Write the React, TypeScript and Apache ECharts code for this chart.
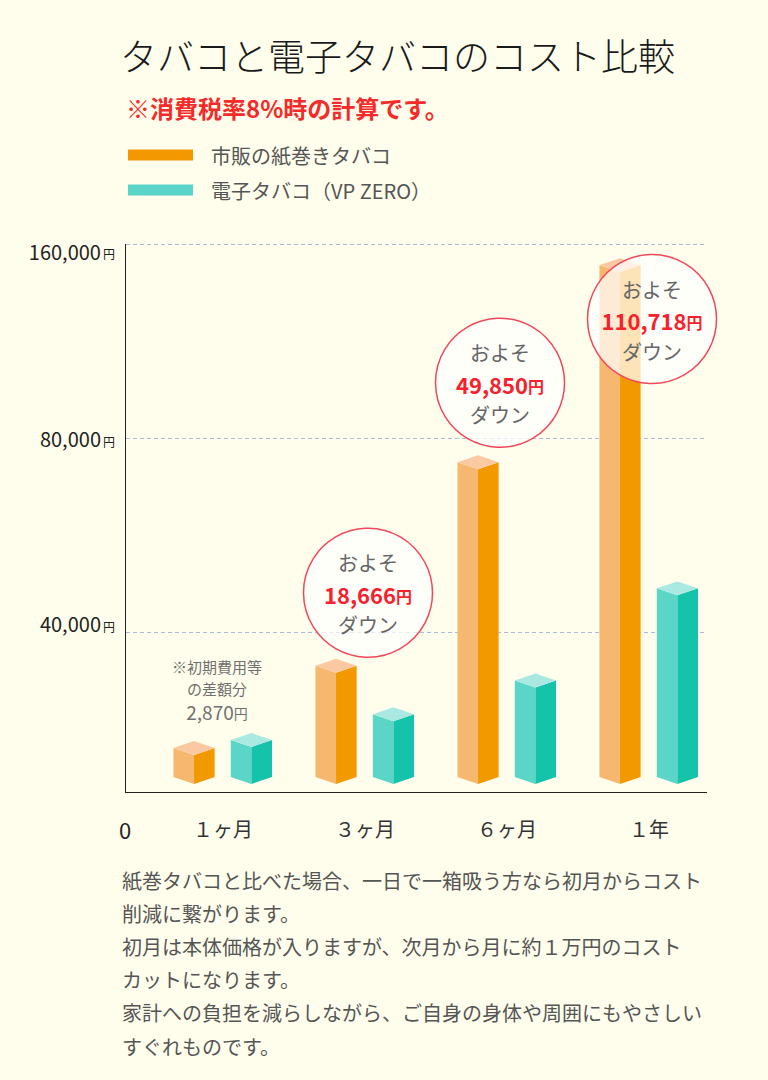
import React, { useEffect, useRef } from "react";
import * as echarts from "echarts";

// ---------- data ----------
const TITLE = "タバコと電子タバコのコスト比較";
const SUBTITLE = "※消費税率8%時の計算です。";
const CATEGORIES = ["１ヶ月", "３ヶ月", "６ヶ月", "１年"];
const SERIES_NAMES = ["市販の紙巻きタバコ", "電子タバコ（VP ZERO）"];
const CIGARETTE_COST = [8000, 30700, 75000, 151300];
const ECIG_COST = [10200, 17300, 26600, 49000];
const Y_TICKS = [0, 40000, 80000, 160000];
const Y_TICK_LABELS = ["0", "40,000", "80,000", "160,000"];
const Y_UNIT = "円";
const DIFF_LABELS = ["2,870", "18,666", "49,850", "110,718"];
const NOTE_LINES = ["※初期費用等", "の差額分"];
const CALLOUT_TOP = "およそ";
const CALLOUT_BOTTOM = "ダウン";
const PARAGRAPH = [
  "紙巻タバコと比べた場合、一日で一箱吸う方なら初月からコスト",
  "削減に繋がります。",
  "初月は本体価格が入りますが、次月から月に約１万円のコスト",
  "カットになります。",
  "家計への負担を減らしながら、ご自身の身体や周囲にもやさしい",
  "すぐれものです。",
];

// ---------- layout / style ----------
const FONT = "'Noto Sans CJK JP', 'Noto Sans', sans-serif";
const BG = "#FFFEEC";
// relative drawn length of each axis segment between consecutive ticks (broken scale)
const SEGMENT_LEN = [145, 194, 194];
const AXIS_MAX = SEGMENT_LEN.reduce((a, b) => a + b, 0);
const LABEL_DY = [0, -9, 0, 6.5];
const CALLOUT_LEVEL = [24550, 48080, 102800, 129070];
const CALLOUT_DX = [-6, 3, -7, 3];
const COLORS = {
  orange: { legend: "#F39800", left: "#F6B76E", right: "#F29900", top: "#FAC9A2" },
  teal: { legend: "#5BD5C8", left: "#5AD5C8", right: "#14C3AA", top: "#AAE8E2" },
};

function toAxis(v: number): number {
  let acc = 0;
  for (let k = 0; k < Y_TICKS.length - 1; k++) {
    const a = Y_TICKS[k];
    const b = Y_TICKS[k + 1];
    if (v <= b || k === Y_TICKS.length - 2) {
      return acc + ((v - a) / (b - a)) * SEGMENT_LEN[k];
    }
    acc += SEGMENT_LEN[k];
  }
  return acc;
}

function barSeries(name: string, values: number[], offset: number, c: any) {
  return {
    type: "custom",
    name,
    z: 2,
    itemStyle: { color: c.legend },
    encode: { x: 0, y: 1 },
    data: values.map((v, i) => [i, toAxis(v), v]),
    renderItem: (params: any, api: any) => {
      const i = api.value(0);
      const base = api.coord([i, 0]);
      const top = api.coord([i, api.value(1)]);
      const band = api.size([1, 0])[0];
      const hw = band * 0.145;
      const dy = band * 0.049;
      const cx = base[0] + offset * band;
      const ty = top[1];
      const by = base[1];
      return {
        type: "group",
        children: [
          {
            type: "polygon",
            shape: { points: [[cx - hw, ty], [cx, ty + dy], [cx, by + dy], [cx - hw, by]] },
            style: { fill: c.left },
          },
          {
            type: "polygon",
            shape: { points: [[cx, ty + dy], [cx + hw, ty], [cx + hw, by], [cx, by + dy]] },
            style: { fill: c.right },
          },
          {
            type: "polygon",
            shape: { points: [[cx - hw, ty], [cx, ty - dy], [cx + hw, ty], [cx, ty + dy]] },
            style: { fill: c.top },
          },
        ],
      };
    },
  };
}

export default function App() {
  const ref = useRef<HTMLDivElement>(null);

  useEffect(() => {
    document.body.style.margin = "0";
    const chart = echarts.init(ref.current!, null, { renderer: "svg" });

    const gridSeries = {
      type: "custom",
      name: "grid",
      z: 1,
      silent: true,
      encode: { x: 0, y: 1 },
      data: Y_TICKS.slice(1).map((v, k) => [0, toAxis(v), k + 1]),
      renderItem: (params: any, api: any) => {
        const cs = params.coordSys;
        const k = api.value(2);
        const y = Math.round(api.coord([0, api.value(1)])[1]) + 0.5;
        return {
          type: "group",
          children: [
            {
              type: "line",
              shape: { x1: cs.x - 26, y1: y, x2: cs.x + cs.width - 13, y2: y },
              style: { stroke: "#AEB8D8", lineWidth: 1, lineDash: [4, 3] },
            },
            {
              type: "text",
              style: {
                x: cs.x - 37,
                y: y + LABEL_DY[k],
                text: `{n|${Y_TICK_LABELS[k]}}{u|${Y_UNIT}}`,
                align: "right",
                verticalAlign: "middle",
                rich: {
                  n: { fontSize: 20, fill: "#222", fontFamily: FONT, verticalAlign: "bottom", lineHeight: 20 },
                  u: { fontSize: 12, fill: "#222", fontFamily: FONT, verticalAlign: "bottom", lineHeight: 14, padding: [0, 0, 1, 2] },
                },
              },
            },
          ],
        };
      },
    };

    const calloutSeries = {
      type: "custom",
      name: "callout",
      z: 3,
      silent: true,
      encode: { x: 0, y: 1 },
      data: CATEGORIES.map((c, i) => [i, toAxis(CALLOUT_LEVEL[i]), i]),
      renderItem: (params: any, api: any) => {
        const i = api.value(2);
        const p = api.coord([api.value(0), api.value(1)]);
        const x = p[0] + CALLOUT_DX[i];
        const y = p[1];
        if (i === 0) {
          return {
            type: "group",
            children: [
              {
                type: "text",
                style: { x, y: y - 22, text: NOTE_LINES[0], fontSize: 15, lineHeight: 16, fill: "#707070", fontFamily: FONT, align: "center", verticalAlign: "middle" },
              },
              {
                type: "text",
                style: { x, y, text: NOTE_LINES[1], fontSize: 15, lineHeight: 16, fill: "#707070", fontFamily: FONT, align: "center", verticalAlign: "middle" },
              },
              {
                type: "text",
                style: {
                  x,
                  y: y + 23,
                  text: `{n|${DIFF_LABELS[0]}}{u|${Y_UNIT}}`,
                  align: "center",
                  verticalAlign: "middle",
                  rich: {
                    n: { fontSize: 19, fill: "#707070", fontFamily: FONT, verticalAlign: "bottom", lineHeight: 19 },
                    u: { fontSize: 14, fill: "#707070", fontFamily: FONT, verticalAlign: "bottom", lineHeight: 15, padding: [0, 0, 1, 0] },
                  },
                },
              },
            ],
          };
        }
        return {
          type: "group",
          children: [
            {
              type: "circle",
              shape: { cx: x, cy: y, r: 64.5 },
              style: { fill: "rgba(255,255,255,0.72)", stroke: "#F2475A", lineWidth: 1.5 },
            },
            {
              type: "text",
              style: { x, y: y - 30, text: CALLOUT_TOP, fontSize: 20, lineHeight: 20, fill: "#666", fontFamily: FONT, align: "center", verticalAlign: "middle" },
            },
            {
              type: "text",
              style: {
                x,
                y: y + 1,
                text: `{n|${DIFF_LABELS[i]}}{u|${Y_UNIT}}`,
                align: "center",
                verticalAlign: "middle",
                rich: {
                  n: { fontSize: 22, fontWeight: "bold", fill: "#F5222D", fontFamily: FONT, verticalAlign: "bottom", lineHeight: 22 },
                  u: { fontSize: 16, fontWeight: "bold", fill: "#F5222D", fontFamily: FONT, verticalAlign: "bottom", lineHeight: 16, padding: [0, 0, 1, 0] },
                },
              },
            },
            {
              type: "text",
              style: { x, y: y + 32, text: CALLOUT_BOTTOM, fontSize: 20, lineHeight: 20, fill: "#666", fontFamily: FONT, align: "center", verticalAlign: "middle" },
            },
          ],
        };
      },
    };

    const option: any = {
      animation: false,
      backgroundColor: BG,
      textStyle: { fontFamily: FONT },
      title: [
        {
          text: TITLE,
          left: 120,
          top: 36,
          padding: 0,
          textStyle: { fontSize: 37, fontWeight: 300, color: "#1a1a1a", fontFamily: FONT },
        },
        {
          text: SUBTITLE,
          left: 126,
          top: 95,
          padding: 0,
          textStyle: { fontSize: 24, fontWeight: "bold", color: "#F52A2A", fontFamily: FONT },
        },
      ],
      legend: {
        data: SERIES_NAMES,
        orient: "vertical",
        left: 128,
        top: 144,
        padding: 0,
        itemWidth: 65,
        itemHeight: 11,
        itemGap: 13,
        icon: "rect",
        selectedMode: false,
        textStyle: { fontSize: 20, color: "#555", fontFamily: FONT, lineHeight: 22, padding: [0, 0, 0, 13] },
      },
      grid: { left: 152, right: 48, top: 244, bottom: 303 },
      xAxis: {
        type: "category",
        data: CATEGORIES,
        axisLine: { show: false },
        axisTick: { show: false },
        splitLine: { show: false },
        axisLabel: { margin: 41, fontSize: 20, color: "#333", fontFamily: FONT },
      },
      yAxis: {
        type: "value",
        min: 0,
        max: AXIS_MAX,
        show: false,
        splitLine: { show: false },
      },
      graphic: [
        {
          type: "line",
          z: 50,
          shape: { x1: 125.5, y1: 244, x2: 125.5, y2: 793 },
          style: { stroke: "#222", lineWidth: 1 },
        },
        {
          type: "line",
          z: 50,
          shape: { x1: 125, y1: 792.5, x2: 707, y2: 792.5 },
          style: { stroke: "#222", lineWidth: 1 },
        },
        {
          type: "text",
          z: 50,
          x: 125,
          y: 829,
          style: { text: Y_TICK_LABELS[0], fontSize: 22, fill: "#222", fontFamily: FONT, align: "center", verticalAlign: "middle" },
        },
        ...PARAGRAPH.map((t, k) => ({
          type: "text",
          z: 50,
          x: 122,
          y: 880 + k * 33.2,
          style: { text: t, fontSize: 20, fill: "#555", fontFamily: FONT, align: "left", verticalAlign: "middle" },
        })),
      ],
      series: [
        gridSeries,
        barSeries(SERIES_NAMES[0], CIGARETTE_COST, -0.204, COLORS.orange),
        barSeries(SERIES_NAMES[1], ECIG_COST, 0.2, COLORS.teal),
        calloutSeries,
      ],
    };

    chart.setOption(option);
    return () => chart.dispose();
  }, []);

  return (
    <div
      ref={ref}
      style={{ position: "fixed", left: 0, top: 0, width: 768, height: 1080, background: BG }}
    />
  );
}
